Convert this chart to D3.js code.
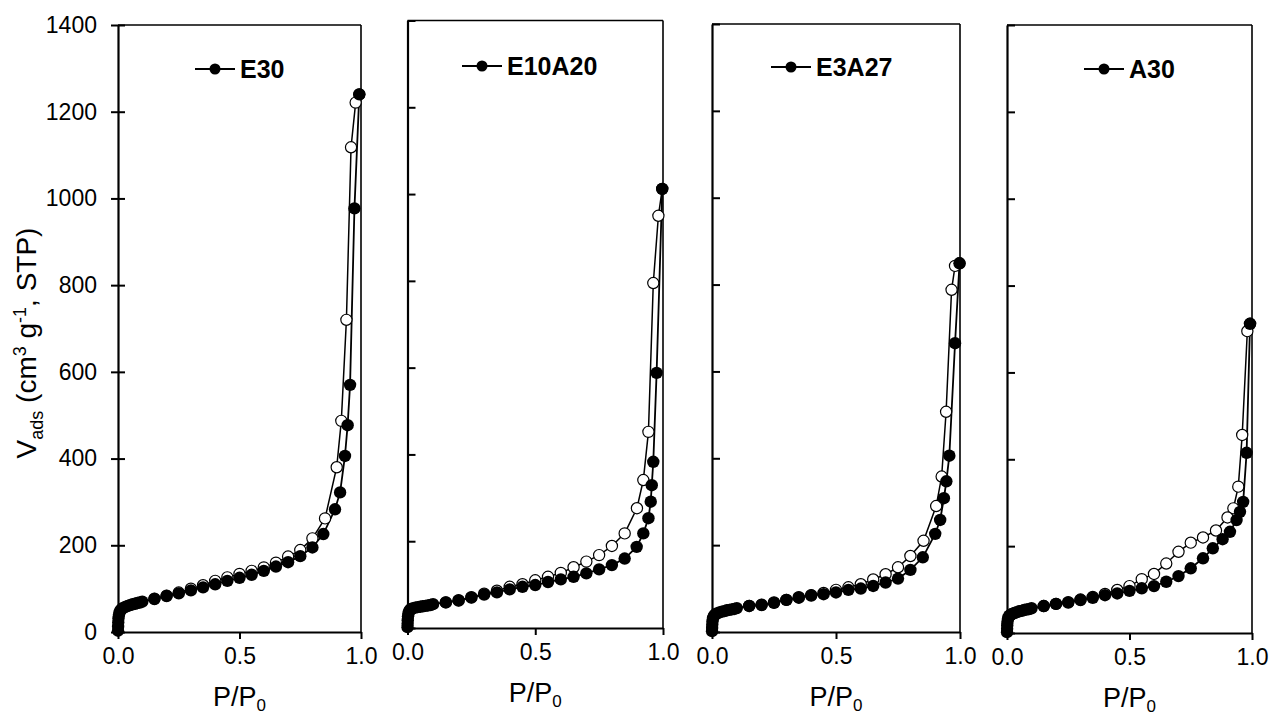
<!DOCTYPE html>
<html>
<head>
<meta charset="utf-8">
<script src="https://cdn.jsdelivr.net/npm/d3@7"></script>
<style>
  html, body { margin: 0; padding: 0; background: #fff; }
  svg { display: block; font-family: "Liberation Sans", Arial, sans-serif; }
</style>
</head>
<body>
<svg id="chart" width="1271" height="718"></svg>
<script>
// ---------------- DATA ----------------
const sampleNames = ["E30", "E10A20", "E3A27", "A30"];
const xTicks = [0, 0.5, 1.0];
const yTicks = [0, 200, 400, 600, 800, 1000, 1200, 1400];

// low-pressure region relative pressures (shared)
const lowP = [0.0001, 0.0005, 0.001, 0.002, 0.004, 0.007, 0.01, 0.015, 0.02, 0.03, 0.04, 0.05, 0.06, 0.07, 0.08, 0.09, 0.10];

// E30
const e30AdsLowV = [3, 12, 22, 32, 40, 46, 50, 53, 55, 58, 60, 62, 64, 65, 67, 68, 70];
const e30AdsP = [0.15, 0.20, 0.25, 0.30, 0.35, 0.40, 0.45, 0.50, 0.55, 0.60, 0.65, 0.70, 0.75, 0.80, 0.845, 0.893, 0.914, 0.934, 0.945, 0.955, 0.973, 0.993];
const e30AdsV = [76, 83, 89, 96, 103, 110, 118, 125, 132, 141, 151, 161, 175, 195, 226, 283, 322, 406, 477, 570, 977, 1240];
const e30DesP = [0.993, 0.978, 0.959, 0.940, 0.919, 0.900, 0.852, 0.80, 0.75, 0.70, 0.65, 0.60, 0.55, 0.50, 0.45, 0.40, 0.35, 0.30, 0.25, 0.20, 0.15];
const e30DesV = [1240, 1221, 1118, 720, 487, 380, 262, 216, 189, 174, 160, 149, 141, 134, 126, 118, 108, 100, 91, 84, 77];

// E10A20
const e10AdsLowV = [2, 10, 18, 27, 34, 39, 42, 44, 45, 47, 48, 49, 50, 51, 52, 53, 55];
const e10AdsP = [0.15, 0.20, 0.25, 0.30, 0.35, 0.40, 0.45, 0.50, 0.55, 0.60, 0.65, 0.70, 0.75, 0.80, 0.85, 0.897, 0.923, 0.943, 0.952, 0.956, 0.962, 0.975, 0.997];
const e10AdsV = [59, 63, 70, 77, 82, 89, 95, 99, 106, 112, 118, 126, 135, 145, 160, 187, 218, 253, 291, 329, 383, 588, 1012];
const e10DesP = [0.997, 0.982, 0.962, 0.943, 0.923, 0.898, 0.85, 0.80, 0.75, 0.70, 0.65, 0.60, 0.55, 0.50, 0.45, 0.40, 0.35, 0.30, 0.25, 0.20, 0.15];
const e10DesV = [1012, 950, 795, 452, 341, 276, 218, 189, 168, 153, 140, 127, 118, 110, 101, 95, 86, 79, 71, 64, 59];

// E3A27
const e3AdsLowV = [2, 9, 17, 25, 32, 36, 39, 41, 43, 45, 47, 48, 50, 51, 52, 53, 55];
const e3AdsP = [0.15, 0.20, 0.25, 0.30, 0.35, 0.40, 0.45, 0.50, 0.55, 0.60, 0.65, 0.70, 0.75, 0.80, 0.85, 0.90, 0.92, 0.935, 0.945, 0.957, 0.98, 0.998];
const e3AdsV = [60, 62, 67, 74, 79, 84, 87, 91, 97, 100, 106, 114, 123, 143, 172, 226, 258, 308, 347, 406, 665, 849];
const e3DesP = [0.998, 0.98, 0.966, 0.944, 0.926, 0.904, 0.853, 0.80, 0.75, 0.70, 0.65, 0.60, 0.55, 0.50, 0.45, 0.40, 0.35, 0.30, 0.25, 0.20, 0.15];
const e3DesV = [849, 843, 788, 507, 358, 290, 210, 175, 149, 133, 121, 110, 103, 97, 90, 85, 80, 74, 68, 63, 60];

// A30
const a30AdsLowV = [2, 10, 18, 26, 33, 37, 40, 42, 44, 46, 48, 50, 51, 53, 54, 55, 57];
const a30AdsP = [0.15, 0.20, 0.25, 0.30, 0.35, 0.40, 0.45, 0.50, 0.55, 0.60, 0.65, 0.70, 0.75, 0.80, 0.84, 0.88, 0.91, 0.937, 0.951, 0.964, 0.978, 0.992];
const a30AdsV = [62, 67, 70, 76, 81, 87, 91, 97, 103, 108, 118, 131, 149, 172, 195, 216, 233, 260, 279, 302, 415, 712];
const a30DesP = [0.992, 0.981, 0.96, 0.944, 0.924, 0.90, 0.853, 0.80, 0.75, 0.70, 0.65, 0.60, 0.55, 0.50, 0.45, 0.40, 0.35, 0.30, 0.25, 0.20, 0.15];
const a30DesV = [712, 695, 456, 337, 287, 266, 236, 220, 208, 187, 160, 136, 124, 108, 99, 90, 83, 77, 71, 67, 62];

// ---------------- LAYOUT ----------------
const panels = [
  { name: sampleNames[0], x0: 118, x1: 361, yTop: 25, yBot: 632, legY: 69, legX: 195, yLabels: true,
    adsLow: e30AdsLowV, adsP: e30AdsP, adsV: e30AdsV, desP: e30DesP, desV: e30DesV },
  { name: sampleNames[1], x0: 407.5, x1: 663, yTop: 20.5, yBot: 628, legY: 66, legX: 462, yLabels: false,
    adsLow: e10AdsLowV, adsP: e10AdsP, adsV: e10AdsV, desP: e10DesP, desV: e10DesV },
  { name: sampleNames[2], x0: 712, x1: 960, yTop: 24, yBot: 632, legY: 67, legX: 771, yLabels: false,
    adsLow: e3AdsLowV, adsP: e3AdsP, adsV: e3AdsV, desP: e3DesP, desV: e3DesV },
  { name: sampleNames[3], x0: 1007, x1: 1252, yTop: 25, yBot: 633, legY: 69, legX: 1084, yLabels: false,
    adsLow: a30AdsLowV, adsP: a30AdsP, adsV: a30AdsV, desP: a30DesP, desV: a30DesV }
];

const svg = d3.select("#chart");
const FONT_TICK = 23, FONT_TITLE = 27, FONT_LEG = 25;

panels.forEach((p, i) => {
  const x = d3.scaleLinear().domain([0, 1]).range([p.x0, p.x1]);
  const y = d3.scaleLinear().domain([0, 1400]).range([p.yBot, p.yTop]);
  const g = svg.append("g");

  // frame top & right
  g.append("line").attr("x1", p.x0).attr("x2", p.x1).attr("y1", p.yTop).attr("y2", p.yTop)
    .attr("stroke", "#000").attr("stroke-width", 1.6);
  g.append("line").attr("x1", p.x1).attr("x2", p.x1).attr("y1", p.yTop).attr("y2", p.yBot)
    .attr("stroke", "#000").attr("stroke-width", 1.6);

  // x axis
  const xAxis = d3.axisBottom(x).tickValues(xTicks).tickFormat(d3.format(".1f"))
    .tickSizeInner(7).tickSizeOuter(0).tickPadding(9);
  const gx = g.append("g").attr("transform", `translate(0,${p.yBot})`).call(xAxis);
  gx.select(".domain").attr("stroke-width", 2.2);
  gx.selectAll(".tick line").attr("stroke-width", 2);
  gx.selectAll("text").attr("font-size", FONT_TICK).attr("font-family", "Liberation Sans, Arial, sans-serif").attr("fill", "#000");

  // y axis
  let yAxis;
  if (p.yLabels) {
    yAxis = d3.axisLeft(y).tickValues(yTicks).tickFormat(d3.format("d")).tickSizeInner(7).tickSizeOuter(0).tickPadding(14);
  } else {
    yAxis = d3.axisRight(y).tickValues(yTicks).tickFormat("").tickSizeInner(8).tickSizeOuter(0);
  }
  const gy = g.append("g").attr("transform", `translate(${p.x0},0)`).call(yAxis);
  gy.select(".domain").attr("stroke-width", 2.2);
  gy.selectAll(".tick line").attr("stroke-width", 2);
  if (p.yLabels) {
    gy.selectAll(".tick line").attr("x1", 7).attr("x2", -7);
    gy.selectAll("text").attr("font-size", FONT_TICK).attr("font-family", "Liberation Sans, Arial, sans-serif").attr("fill", "#000");
  }

  // x title
  const xt = g.append("text").attr("x", (p.x0 + p.x1) / 2).attr("y", p.yBot + 74)
    .attr("text-anchor", "middle").attr("font-size", FONT_TITLE).attr("fill", "#000");
  xt.append("tspan").text("P/P");
  xt.append("tspan").attr("font-size", 17).attr("dy", 5).text("0");

  // data
  const ads = lowP.map((pp, k) => ({ p: pp, v: p.adsLow[k] }))
    .concat(p.adsP.map((pp, k) => ({ p: pp, v: p.adsV[k] })));
  const des = p.desP.map((pp, k) => ({ p: pp, v: p.desV[k] }));
  const line = d3.line().x(d => x(d.p)).y(d => y(d.v));

  g.append("path").datum(des).attr("d", line).attr("fill", "none").attr("stroke", "#000").attr("stroke-width", 1.5);
  g.append("path").datum(ads).attr("d", line).attr("fill", "none").attr("stroke", "#000").attr("stroke-width", 1.8);

  g.append("g").selectAll("circle").data(des).join("circle")
    .attr("cx", d => x(d.p)).attr("cy", d => y(d.v)).attr("r", 5.6)
    .attr("fill", "#fff").attr("stroke", "#000").attr("stroke-width", 1.2);
  g.append("g").selectAll("circle").data(ads).join("circle")
    .attr("cx", d => x(d.p)).attr("cy", d => y(d.v)).attr("r", 6.2)
    .attr("fill", "#000");

  // legend
  const lg = g.append("g");
  lg.append("line").attr("x1", p.legX).attr("x2", p.legX + 40).attr("y1", p.legY).attr("y2", p.legY)
    .attr("stroke", "#000").attr("stroke-width", 2);
  lg.append("circle").attr("cx", p.legX + 20).attr("cy", p.legY).attr("r", 5.5).attr("fill", "#000");
  lg.append("text").attr("x", p.legX + 45).attr("y", p.legY + 9).attr("font-size", FONT_LEG)
    .attr("font-weight", "bold").attr("fill", "#000").text(p.name);
});

// y title
const yt = svg.append("text").attr("transform", "translate(36,343) rotate(-90)")
  .attr("text-anchor", "middle").attr("font-size", 28).attr("fill", "#000");
yt.append("tspan").text("V");
yt.append("tspan").attr("font-size", 18).attr("dy", 7).text("ads");
yt.append("tspan").attr("dy", -7).text(" (cm");
yt.append("tspan").attr("font-size", 18).attr("dy", -10).text("3");
yt.append("tspan").attr("dy", 10).text(" g");
yt.append("tspan").attr("font-size", 18).attr("dy", -10).text("-1");
yt.append("tspan").attr("dy", 10).text(", STP)");
</script>
</body>
</html>
